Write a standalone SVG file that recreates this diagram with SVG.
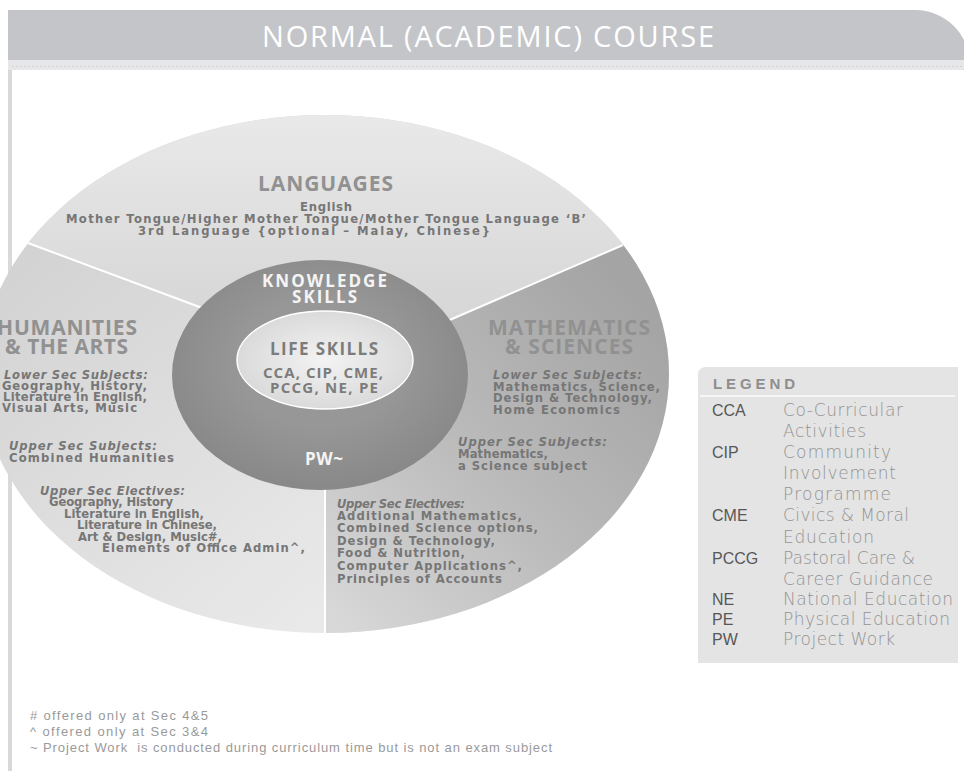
<svg xmlns="http://www.w3.org/2000/svg" width="964" height="771" viewBox="0 0 964 771">
<defs>
<style>
.title{font-family:"Open Sans","DejaVu Sans",sans-serif;font-size:29px;fill:#ffffff}
.hd{font-family:"Open Sans","DejaVu Sans",sans-serif;font-weight:700;font-size:21px;fill:#919191}
.sub{font-family:"DejaVu Sans",sans-serif;font-size:11.6px;font-weight:700;fill:#767676}
.subi{font-family:"DejaVu Sans",sans-serif;font-size:11.6px;font-style:italic;font-weight:700;fill:#767676}
.ks{font-family:"Open Sans","DejaVu Sans",sans-serif;font-weight:700;font-size:17px;fill:#f4f4f4}
.ls{font-family:"Open Sans","DejaVu Sans",sans-serif;font-weight:700;fill:#7c7c7c}
.lga{font-family:"Liberation Sans",Arial,sans-serif;font-size:16px;fill:#575757}
.lgd{font-family:"DejaVu Sans",sans-serif;font-size:17px;font-weight:300;fill:#939393}
.fn{font-family:"Liberation Sans",Arial,sans-serif;font-size:13px;fill:#9a9a9a;white-space:pre}
.div{stroke:#ffffff;stroke-width:2;fill:none}
</style>
<clipPath id="outer"><ellipse cx="325" cy="374" rx="344" ry="259"/></clipPath>
<linearGradient id="gLang" gradientUnits="userSpaceOnUse" x1="0" y1="115" x2="0" y2="320">
<stop offset="0" stop-color="#e9e9e9"/><stop offset="1" stop-color="#d6d6d6"/>
</linearGradient>
<linearGradient id="gHum" gradientUnits="userSpaceOnUse" x1="0" y1="280" x2="300" y2="630">
<stop offset="0" stop-color="#d3d3d3"/><stop offset="1" stop-color="#e9e9e9"/>
</linearGradient>
<linearGradient id="gMath" gradientUnits="userSpaceOnUse" x1="665" y1="330" x2="340" y2="630">
<stop offset="0" stop-color="#a4a4a4"/><stop offset="0.5" stop-color="#bababa"/><stop offset="1" stop-color="#d8d8d8"/>
</linearGradient>
<radialGradient id="gRing" cx="0.5" cy="0.45" r="0.55">
<stop offset="0.5" stop-color="#979797"/><stop offset="1" stop-color="#888888"/>
</radialGradient>
<radialGradient id="gLife" cx="0.5" cy="0.5" r="0.5">
<stop offset="0" stop-color="#f3f3f3"/><stop offset="1" stop-color="#dadada"/>
</radialGradient>
</defs>

<rect width="964" height="771" fill="#ffffff"/>

<g id="frame">
<rect x="8" y="10" width="4" height="761" fill="#d9d9d9"/>
</g>

<g id="header">
<path d="M8,60 L8,10 L915,10 A55,55 0 0 1 970,65 L970,60 Z" fill="#c4c5c8"/>
<rect x="8" y="60" width="956" height="10" fill="#e7e7e9"/>
<line x1="12" y1="66.5" x2="964" y2="66.5" stroke="#d2d2d4" stroke-width="1" stroke-dasharray="2 2"/>
<text class="title" x="262" y="47" textLength="452">NORMAL (ACADEMIC) COURSE</text>
</g>

<g id="segments" clip-path="url(#outer)">
<rect id="humanities-bg" x="-40" y="100" width="760" height="560" fill="url(#gHum)"/>
<polygon id="languages-bg" points="-80,204 200,307 320,375 450,320 740,193 740,0 -80,0" fill="url(#gLang)"/>
<polygon id="maths-bg" points="320,375 450,320 740,193 740,700 325,700 325,375" fill="url(#gMath)"/>
</g>

<g id="dividers">
<line class="div" x1="28" y1="243" x2="205" y2="309"/>
<line class="div" x1="623" y1="245" x2="445" y2="322"/>
<line class="div" x1="325" y1="485" x2="325" y2="634"/>
</g>

<g id="languages">
<text class="hd" x="258" y="191" textLength="135">LANGUAGES</text>
<text class="sub" x="300" y="211" textLength="52">English</text>
<text class="sub" x="66" y="223" textLength="520">Mother Tongue/Higher Mother Tongue/Mother Tongue Language ‘B’</text>
<text class="sub" x="138" y="235" textLength="352">3rd Language {optional – Malay, Chinese}</text>
</g>

<g id="humanities">
<text class="hd" x="-3" y="335" textLength="140">HUMANITIES</text>
<text class="hd" x="5" y="354" textLength="123">&amp; THE ARTS</text>
<text class="subi" x="4" y="379" textLength="144">Lower Sec Subjects:</text>
<text class="sub" x="2" y="390" textLength="145">Geography, History,</text>
<text class="sub" x="3" y="401" textLength="144">Literature in English,</text>
<text class="sub" x="2" y="412" textLength="135">Visual Arts, Music</text>
<text class="subi" x="9" y="450" textLength="148">Upper Sec Subjects:</text>
<text class="sub" x="9" y="462" textLength="165">Combined Humanities</text>
<text class="subi" x="40" y="495" textLength="145">Upper Sec Electives:</text>
<text class="sub" x="49" y="506" textLength="124">Geography, History</text>
<text class="sub" x="64" y="518" textLength="140">Literature in English,</text>
<text class="sub" x="77" y="529" textLength="140">Literature in Chinese,</text>
<text class="sub" x="78" y="541" textLength="144">Art &amp; Design, Music#,</text>
<text class="sub" x="102" y="552" textLength="203">Elements of Office Admin^,</text>
</g>

<g id="maths-sciences">
<text class="hd" x="488" y="335" textLength="162">MATHEMATICS</text>
<text class="hd" x="505" y="354" textLength="128">&amp; SCIENCES</text>
<text class="subi" x="493" y="379" textLength="149">Lower Sec Subjects:</text>
<text class="sub" x="493" y="391" textLength="167">Mathematics, Science,</text>
<text class="sub" x="493" y="402" textLength="159">Design &amp; Technology,</text>
<text class="sub" x="493" y="414" textLength="127">Home Economics</text>
<text class="subi" x="458" y="446" textLength="149">Upper Sec Subjects:</text>
<text class="sub" x="458" y="458" textLength="90">Mathematics,</text>
<text class="sub" x="458" y="470" textLength="129">a Science subject</text>
<text class="subi" x="337" y="508" textLength="128">Upper Sec Electives:</text>
<text class="sub" x="337" y="520" textLength="185">Additional Mathematics,</text>
<text class="sub" x="337" y="532" textLength="201">Combined Science options,</text>
<text class="sub" x="337" y="545" textLength="158">Design &amp; Technology,</text>
<text class="sub" x="337" y="557" textLength="128">Food &amp; Nutrition,</text>
<text class="sub" x="337" y="570" textLength="185">Computer Applications^,</text>
<text class="sub" x="337" y="583" textLength="165">Principles of Accounts</text>
</g>

<g id="knowledge-skills">
<ellipse cx="320" cy="375" rx="148" ry="115" fill="url(#gRing)"/>
<text class="ks" x="262" y="287" textLength="125">KNOWLEDGE</text>
<text class="ks" x="292" y="303" textLength="65">SKILLS</text>
<text class="ks" x="305" y="465" textLength="38" font-size="15">PW~</text>
</g>

<g id="life-skills">
<ellipse cx="325" cy="360" rx="88" ry="49" fill="url(#gLife)" stroke="#ffffff" stroke-width="1.5"/>
<text class="ls" x="270" y="355" font-size="17" textLength="108">LIFE SKILLS</text>
<text class="ls" x="263" y="378" font-size="15" textLength="120">CCA, CIP, CME,</text>
<text class="ls" x="270" y="393" font-size="15" textLength="108">PCCG, NE, PE</text>
</g>

<g id="legend">
<path d="M698,663 L698,375 Q698,367 706,367 L958,367 L958,663 Z" fill="#e4e4e4"/>
<line x1="700" y1="396" x2="955" y2="396" stroke="#f6f6f6" stroke-width="2"/>
<text x="713" y="389" font-family="Liberation Sans, Arial, sans-serif" font-size="15" font-weight="700" fill="#8e8e8e" textLength="82">LEGEND</text>
<text class="lga" x="712" y="416">CCA</text>
<text class="lgd" x="783" y="416" textLength="120">Co-Curricular</text>
<text class="lgd" x="783" y="437" textLength="83">Activities</text>
<text class="lga" x="712" y="458">CIP</text>
<text class="lgd" x="783" y="458" textLength="108">Community</text>
<text class="lgd" x="783" y="479" textLength="113">Involvement</text>
<text class="lgd" x="783" y="500" textLength="108">Programme</text>
<text class="lga" x="712" y="521">CME</text>
<text class="lgd" x="783" y="521" textLength="126">Civics &amp; Moral</text>
<text class="lgd" x="783" y="543" textLength="91">Education</text>
<text class="lga" x="712" y="564">PCCG</text>
<text class="lgd" x="783" y="564" textLength="132">Pastoral Care &amp;</text>
<text class="lgd" x="783" y="585" textLength="150">Career Guidance</text>
<text class="lga" x="712" y="605">NE</text>
<text class="lgd" x="783" y="605" textLength="170">National Education</text>
<text class="lga" x="712" y="625">PE</text>
<text class="lgd" x="783" y="625" textLength="167">Physical Education</text>
<text class="lga" x="712" y="645">PW</text>
<text class="lgd" x="783" y="645" textLength="112">Project Work</text>
</g>

<g id="footnotes">
<text class="fn" x="30" y="720" textLength="178"># offered only at Sec 4&amp;5</text>
<text class="fn" x="30" y="736" textLength="178">^ offered only at Sec 3&amp;4</text>
<text class="fn" x="30" y="752" textLength="522">~ Project Work  is conducted during curriculum time but is not an exam subject</text>
</g>
</svg>
